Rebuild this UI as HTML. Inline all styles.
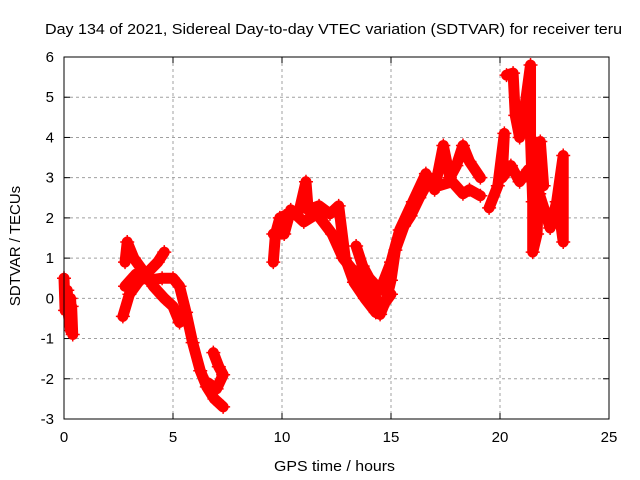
<!DOCTYPE html>
<html><head><meta charset="utf-8"><style>
html,body{margin:0;padding:0;background:#fff;}
svg{display:block;font-family:"Liberation Sans",sans-serif;}
</style></head><body>
<svg id="chart" width="640" height="480" viewBox="0 0 640 480">
<text x="45" y="34" font-size="15" textLength="577" lengthAdjust="spacingAndGlyphs">Day 134 of 2021, Sidereal Day-to-day VTEC variation (SDTVAR) for receiver teru</text>
<g id="grid"></g>
<g id="ticks"></g>
<g id="marks"></g>
<rect x="64" y="57" width="545" height="362" fill="none" stroke="#000" stroke-width="1"/>
<text x="274" y="471" font-size="15" textLength="121" lengthAdjust="spacingAndGlyphs">GPS time / hours</text>
<text x="0" y="0" font-size="15" text-anchor="middle" transform="translate(20,246) rotate(-90)">SDTVAR / TECUs</text>
</svg>
<script>
const xTicks = [0,5,10,15,20,25];
const yTicks = [-3,-2,-1,0,1,2,3,4,5,6];
const trackA = [[0,0.5],[0.05,-0.3],[0.15,0.2],[0.2,-0.4],[0.3,-0.8],[0.35,-0.2],[0.4,-0.9],[0.3,0.0]];
const trackB = [[2.7,-0.45],[3.0,0.1],[3.4,0.4],[3.85,0.65],[4.3,0.9],[4.6,1.15]];
const trackB2 = [[2.8,0.9],[2.9,1.4],[3.2,1.0],[3.6,0.7],[4.1,0.3],[4.6,0.0],[5.0,-0.2],[5.3,-0.6]];
const trackB3 = [[2.8,0.3],[3.3,0.6],[3.9,0.45],[4.5,0.5],[5.0,0.5],[5.3,0.3],[5.6,-0.35],[5.9,-1.1],[6.25,-1.8],[6.55,-2.2],[6.9,-2.5],[7.3,-2.7]];
const trackB4 = [[6.85,-1.35],[7.1,-1.7],[7.3,-1.9],[7.0,-2.25],[6.6,-2.1]];
const trackC = [[9.6,0.9],[9.7,1.6],[9.9,2.0],[10.3,2.1],[10.8,2.2],[11.1,2.9],[11.2,2.2],[11.7,2.3],[12.2,2.1],[12.6,2.3],[12.9,1.0],[13.3,0.4],[13.8,0.0],[14.3,-0.35],[14.5,-0.4],[14.8,0.0],[15.0,0.45],[15.2,1.2],[15.6,1.8],[15.9,2.05],[16.3,2.5],[16.6,2.8],[17.2,2.8],[17.8,2.9],[18.3,2.6],[18.6,2.7],[19.1,2.55]];
const trackC2 = [[9.6,1.6],[10.1,1.6],[10.4,2.2],[11.0,1.9],[11.6,2.1],[12.3,1.6],[12.8,1.0],[13.4,0.6],[14.0,0.2],[14.6,-0.2],[15.0,0.1]];
const trackC3 = [[13.4,1.3],[13.7,0.8],[14.0,0.5],[14.5,0.2],[15.0,0.9],[15.4,1.7],[16.0,2.4],[16.6,3.1],[17.0,2.7],[17.4,3.8],[17.7,3.0],[18.0,3.3],[18.3,3.8],[18.6,3.4],[19.1,3.0]];
const trackD = [[19.5,2.25],[19.9,2.8],[20.2,4.1],[20.1,3.0],[20.5,3.3],[20.9,2.9],[21.3,3.2],[21.8,2.6],[22.3,1.75],[22.6,2.4],[22.9,3.55],[22.9,1.4],[22.7,2.2]];
const trackD2 = [[20.3,5.55],[20.6,5.6],[20.7,4.55],[20.9,4.0],[21.1,4.6],[21.4,5.8],[21.4,4.0],[21.5,2.4],[21.5,1.15],[21.7,1.6],[21.85,3.9],[22.0,2.8]];
const tracks = [trackA, trackB, trackB2, trackB3, trackB4, trackC, trackC2, trackC3, trackD, trackD2];

const X0=64, X1=609, Y0=419, Y1=57;
const xScale = t => X0 + (t-0)/(25-0)*(X1-X0);
const yScale = v => Y0 - (v-(-3))/(6-(-3))*(Y0-Y1);
const NS="http://www.w3.org/2000/svg";
const grid=document.getElementById('grid'), ticks=document.getElementById('ticks'), marks=document.getElementById('marks');
function mk(tag, attrs, parent){const e=document.createElementNS(NS,tag);for(const k in attrs)e.setAttribute(k,attrs[k]);parent.appendChild(e);return e;}

xTicks.forEach(t=>{
  const x=xScale(t);
  if(t>0&&t<25){const g=mk('line',{x1:x,y1:Y1,x2:x,y2:Y0,stroke:'#a0a0a0','stroke-dasharray':'3,3'},grid);
  
  }
  mk('line',{x1:x,y1:Y0,x2:x,y2:Y0-6,stroke:'#000'},ticks);
  mk('line',{x1:x,y1:Y1,x2:x,y2:Y1+6,stroke:'#000'},ticks);
  const l=mk('text',{x:x,y:Y0+23,'font-size':15,'text-anchor':'middle'},ticks);
  l.textContent=t;
  
  
});
yTicks.forEach(v=>{
  const y=yScale(v);
  if(v>-3&&v<6){const g=mk('line',{x1:X0,y1:y,x2:X1,y2:y,stroke:'#a0a0a0','stroke-dasharray':'3,3'},grid);
  
  }
  mk('line',{x1:X0,y1:y,x2:X0+6,y2:y,stroke:'#000'},ticks);
  mk('line',{x1:X1,y1:y,x2:X1-6,y2:y,stroke:'#000'},ticks);
  const l=mk('text',{x:X0-10,y:y+5,'font-size':15,'text-anchor':'end'},ticks);
  l.textContent=v;
  
  
});
tracks.forEach(tr=>{
  const p=mk('polyline',{points:tr.map(d=>xScale(d[0])+','+yScale(d[1])).join(' '),fill:'none',stroke:'#ff0000','stroke-width':11,'stroke-linejoin':'round','stroke-linecap':'round'},marks);
  
  
  tr.forEach(d=>{
    const x=xScale(d[0]), y=yScale(d[1]);
    const m=mk('path',{d:`M${x-7},${y}H${x+7}M${x},${y-7}V${y+7}`,stroke:'#ff0000','stroke-width':1.5},marks);
    
    
  });
});
</script>
</body></html>
